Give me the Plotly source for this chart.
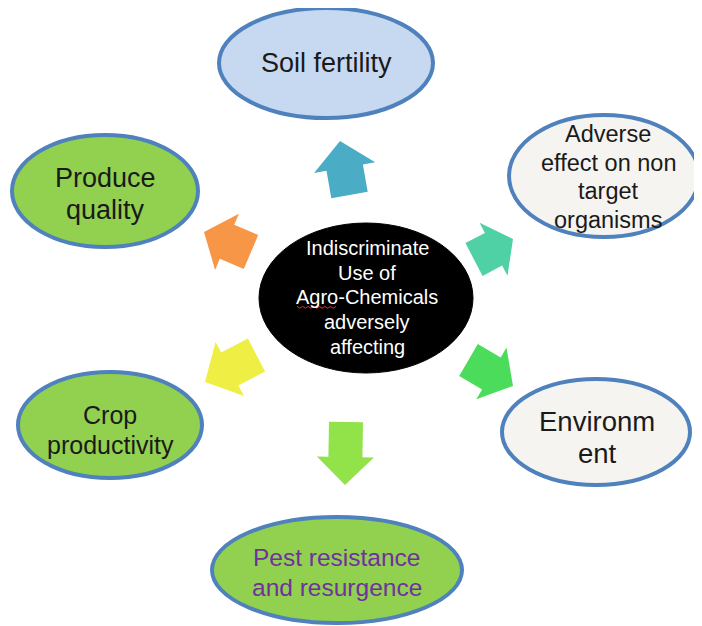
import math
import plotly.graph_objects as go

# ---- content (text) ----
CENTER_LINES = ["Indiscriminate", "Use of", "Agro-Chemicals", "adversely", "affecting"]
NODE_NAMES = ["Soil fertility", "Adverse effect", "Produce quality",
              "Crop productivity", "Environment", "Pest resistance"]
NODE_LINES = [
    ["Soil fertility"],
    ["Adverse", "effect on non", "target", "organisms"],
    ["Produce", "quality"],
    ["Crop", "productivity"],
    ["Environm", "ent"],
    ["Pest resistance", "and resurgence"],
]

# ---- layout / style (pixel geometry of the diagram) ----
W, H = 702, 626
PAGE_MARGIN = 8  # default body margin of the html page
FONT = "Liberation Sans, Arial, sans-serif"
BORDER = "#4F81BD"

CENTER_GEOM = dict(cx=366, cy=298, rx=107, ry=75, y0=248, dy=24.7, size=20, tx=367)

NODE_GEOM = [
    dict(cx=326, cy=63, rx=107, ry=55, fill="#C6D9F1", color="#1A1A1A", y0=63, dy=0, size=27, tx=326),
    dict(cx=604, cy=176, rx=95, ry=61, fill="#F5F4F0", color="#1A1A1A", y0=134, dy=28.7, size=23.5, tx=608),
    dict(cx=105, cy=191, rx=93, ry=56, fill="#92D050", color="#1A1A1A", y0=178, dy=32, size=27, tx=105),
    dict(cx=110, cy=425, rx=92, ry=53, fill="#92D050", color="#1A1A1A", y0=415, dy=30, size=25, tx=110),
    dict(cx=596, cy=432, rx=94, ry=53, fill="#F5F4F0", color="#1A1A1A", y0=421, dy=32, size=27.5, tx=597),
    dict(cx=337, cy=570, rx=125, ry=53, fill="#92D050", color="#7030A0", y0=557, dy=30, size=24.5, tx=337),
]

ARROWS = [
    dict(base=(349.5, 195), tip=(340, 141), sw=37, hw=62, hl=27, color="#4BACC6"),
    dict(base=(251, 252), tip=(204, 232), sw=37, hw=61, hl=25, color="#F79646"),
    dict(base=(474, 259.5), tip=(513, 239), sw=37, hw=60, hl=22, color="#4FD1A5"),
    dict(base=(256.5, 355), tip=(205, 382), sw=37, hw=61, hl=28, color="#EEEE44"),
    dict(base=(468.5, 360), tip=(513, 386), sw=37, hw=60, hl=25, color="#4CDC5C"),
    dict(base=(346, 422), tip=(345, 485), sw=34, hw=57, hl=28, color="#92E24A"),
]


def arrow_path(a):
    bx, by = a["base"]
    tx, ty = a["tip"]
    dx, dy = tx - bx, ty - by
    L = math.hypot(dx, dy)
    ux, uy = dx / L, dy / L
    px, py = -uy, ux
    hx, hy = tx - ux * a["hl"], ty - uy * a["hl"]
    s, h = a["sw"] / 2, a["hw"] / 2
    pts = [
        (bx + px * s, by + py * s),
        (hx + px * s, hy + py * s),
        (hx + px * h, hy + py * h),
        (tx, ty),
        (hx - px * h, hy - py * h),
        (hx - px * s, hy - py * s),
        (bx - px * s, by - py * s),
    ]
    return "M " + " L ".join(f"{x:.1f},{y:.1f}" for x, y in pts) + " Z"


fig = go.Figure()
fig.add_trace(go.Scatter(x=[PAGE_MARGIN, W], y=[PAGE_MARGIN, H], mode="markers",
                         marker=dict(opacity=0), hoverinfo="skip", showlegend=False))

shapes = []
for a in ARROWS:
    shapes.append(dict(type="path", path=arrow_path(a), xref="x", yref="y",
                       fillcolor=a["color"], line=dict(width=0)))

for g in NODE_GEOM:
    shapes.append(dict(type="circle", xref="x", yref="y",
                       x0=g["cx"] - g["rx"], x1=g["cx"] + g["rx"],
                       y0=g["cy"] - g["ry"], y1=g["cy"] + g["ry"],
                       fillcolor=g["fill"], line=dict(color=BORDER, width=4)))

c = CENTER_GEOM
shapes.append(dict(type="circle", xref="x", yref="y",
                   x0=c["cx"] - c["rx"], x1=c["cx"] + c["rx"],
                   y0=c["cy"] - c["ry"], y1=c["cy"] + c["ry"],
                   fillcolor="#000000", line=dict(color="#000000", width=1)))

# spell-check squiggle under "Agro"
sq_x0, sq_x1, sq_y = 297, 336, 307
n = 14
pts = [(sq_x0 + (sq_x1 - sq_x0) * i / n, sq_y + (1.2 if i % 2 else -0.6)) for i in range(n + 1)]
shapes.append(dict(type="path", xref="x", yref="y",
                   path="M " + " L ".join(f"{x:.1f},{y:.1f}" for x, y in pts),
                   line=dict(color="#E03030", width=1)))

annotations = []
for i, line in enumerate(CENTER_LINES):
    annotations.append(dict(x=c["tx"], y=c["y0"] + i * c["dy"], text=line, showarrow=False,
                            xref="x", yref="y", xanchor="center", yanchor="middle",
                            font=dict(family=FONT, size=c["size"], color="#FFFFFF")))

for lines, g in zip(NODE_LINES, NODE_GEOM):
    for i, line in enumerate(lines):
        annotations.append(dict(x=g["tx"], y=g["y0"] + i * g["dy"], text=line, showarrow=False,
                                xref="x", yref="y", xanchor="center", yanchor="middle",
                                font=dict(family=FONT, size=g["size"], color=g["color"])))

fig.update_layout(
    width=W - PAGE_MARGIN, height=H - PAGE_MARGIN,
    margin=dict(l=0, r=0, t=0, b=0),
    paper_bgcolor="#FFFFFF", plot_bgcolor="#FFFFFF",
    xaxis=dict(range=[PAGE_MARGIN, W], visible=False, fixedrange=True),
    yaxis=dict(range=[H, PAGE_MARGIN], visible=False, fixedrange=True),
    shapes=shapes, annotations=annotations, showlegend=False,
)

fig.write_html("out.html")
